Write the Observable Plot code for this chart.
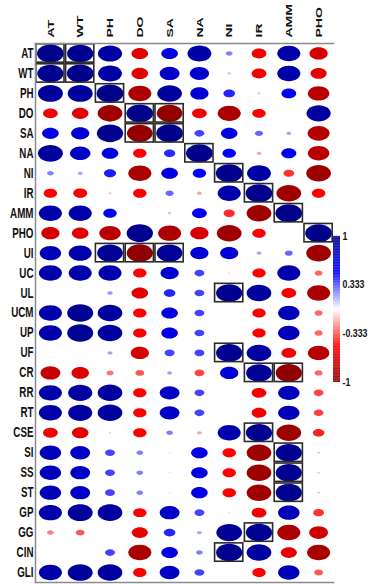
<!DOCTYPE html>
<html><head><meta charset="utf-8">
<script src="https://cdn.jsdelivr.net/npm/d3@7"></script>
<script src="https://cdn.jsdelivr.net/npm/@observablehq/plot@0.6"></script>
<style>
body{margin:0;background:#fff;}
#wrap{position:relative;width:368px;height:584px;overflow:hidden;background:#fff;}
#wrap svg{position:absolute;left:0;top:0;}
</style></head><body><div id="wrap"></div>
<script>
const columns = ["AT","WT","PH","DO","SA","NA","NI","IR","AMM","PHO"];
const rows = ["AT","WT","PH","DO","SA","NA","NI","IR","AMM","PHO","UI","UC","UL","UCM","UP","UF","CR","RR","RT","CSE","SI","SS","ST","GP","GG","CIN","GLI"];

// correlation values, one array per row (order = columns)
const rAT  = [1.00, 0.98, 0.90,-0.62, 0.62, 0.89, 0.25,-0.55, 0.86,-0.68];
const rWT  = [0.98, 1.00, 0.89,-0.62, 0.74, 0.72, 0.12,-0.55, 0.86,-0.60];
const rPH  = [0.93, 0.93, 1.00,-0.86, 0.92, 0.68, 0.43,-0.12, 0.55,-0.80];
const rDO  = [-0.55,-0.62,-0.92, 1.00,-0.96,-0.55,-0.86,-0.50, 0.00, 0.90];
const rSA  = [0.62, 0.68, 0.98,-0.96, 1.00, 0.37, 0.62, 0.30, 0.18,-0.82];
const rNA  = [0.93, 0.76, 0.62,-0.50, 0.42, 1.00, 0.50,-0.18, 0.56,-0.80];
const rNI  = [0.25, 0.18, 0.45,-0.86, 0.62, 0.50, 1.00, 0.89,-0.40,-0.92];
const rIR  = [-0.50,-0.52,-0.12,-0.50, 0.30,-0.18, 0.86, 1.00,-0.92,-0.50];
const rAMM = [0.86, 0.86, 0.50, 0.00, 0.12, 0.55,-0.42,-0.92, 1.00,-0.03];
const rPHO = [-0.68,-0.62,-0.80, 0.98,-0.86,-0.68,-0.92,-0.50,-0.03, 1.00];
const rUI  = [0.80, 0.86, 0.96,-0.98, 0.96, 0.68, 0.68, 0.18, 0.30,-0.92];
const rUC  = [0.86, 0.86, 0.86,-0.50, 0.68, 0.37,-0.08,-0.50, 0.86,-0.30];
const rUL  = [0.00,-0.05, 0.20,-0.62, 0.43, 0.37, 0.98, 0.92,-0.55,-0.86];
const rUCM = [0.86, 0.97, 0.92,-0.50, 0.62, 0.37,-0.06,-0.50, 0.80,-0.30];
const rUP  = [0.86, 0.97, 0.92,-0.50, 0.62, 0.37,-0.06,-0.50, 0.80,-0.30];
const rUF  = [0.00,-0.06, 0.18,-0.68, 0.37, 0.37, 0.98, 0.92,-0.55,-0.80];
const rCR  = [-0.74,-0.65,-0.27,-0.33, 0.18,-0.37, 0.68, 0.96,-0.98,-0.30];
const rRR  = [0.86, 0.90, 0.92,-0.50, 0.74, 0.37,-0.06,-0.55, 0.80,-0.37];
const rRT  = [0.86, 0.90, 0.92,-0.50, 0.74, 0.37,-0.06,-0.55, 0.80,-0.37];
const rCSE = [-0.55,-0.62,-0.10,-0.50, 0.25,-0.18, 0.86, 0.98,-0.92,-0.43];
const rSI  = [0.80, 0.74, 0.37, 0.25,-0.08, 0.62,-0.50,-0.92, 0.98, 0.10];
const rSS  = [0.80, 0.74, 0.37, 0.25,-0.08, 0.62,-0.50,-0.92, 0.98, 0.10];
const rST  = [0.80, 0.74, 0.37, 0.25,-0.08, 0.62,-0.50,-0.92, 0.98, 0.10];
const rGP  = [0.86, 0.93, 0.92,-0.50, 0.74, 0.37,-0.08,-0.55, 0.80,-0.40];
const rGG  = [-0.25,-0.33,-0.05,-0.60, 0.43, 0.18, 0.96, 0.98,-0.86,-0.70];
const rCIN = [0.00, 0.03, 0.37,-0.86, 0.62, 0.25, 0.98, 0.92,-0.60,-0.86];
const rGLI = [0.86, 0.93, 0.92,-0.50, 0.74, 0.37,-0.06,-0.50, 0.80,-0.33];
const matrix = [rAT,rWT,rPH,rDO,rSA,rNA,rNI,rIR,rAMM,rPHO,rUI,rUC,rUL,rUCM,rUP,rUF,rCR,rRR,rRT,rCSE,rSI,rSS,rST,rGP,rGG,rCIN,rGLI];

// highlighted (boxed) cells: [row, column]
const boxedCells = [["AT","AT"],["AT","WT"],["WT","AT"],["WT","WT"],["PH","PH"],["DO","DO"],["DO","SA"],["SA","DO"],["SA","SA"],["NA","NA"],["NI","NI"],["IR","IR"],["AMM","AMM"],["PHO","PHO"],["UI","PH"],["UI","DO"],["UI","SA"],["UL","NI"],["UF","NI"],["CR","IR"],["CR","AMM"],["CSE","IR"],["SI","AMM"],["SS","AMM"],["ST","AMM"],["GG","IR"],["CIN","NI"]];

const legendTicks = [1, 0.333, -0.333, -1];
const legendLabels = ["1","0.333","-0.333","-1"];

const cells = rows.flatMap((r, i) => columns.map((c, j) => ({row: r, col: c, value: matrix[i][j]})));

const W = 368, H = 584, mL = 35, mR = 35, mT = 43, mB = 2;
const cellW = (W - mL - mR) / columns.length;
const cellH = (H - mT - mB) / rows.length;
const SX = cellW / cellH;

const ellipse = {
  draw(ctx, size) {
    const r = Math.sqrt(size / Math.PI);
    const rx = r * SX, ry = r, k = 0.5522847498;
    ctx.moveTo(rx, 0);
    ctx.bezierCurveTo(rx, ry * k, rx * k, ry, 0, ry);
    ctx.bezierCurveTo(-rx * k, ry, -rx, ry * k, -rx, 0);
    ctx.bezierCurveTo(-rx, -ry * k, -rx * k, -ry, 0, -ry);
    ctx.bezierCurveTo(rx * k, -ry, rx, -ry * k, rx, 0);
    ctx.closePath();
  }
};

// squeeze text glyphs (sx, sy in the text's own coordinates)
function squeeze(sx, sy) {
  return function (index, scales, values, dimensions, context, next) {
    const g = next(index, scales, values, dimensions, context);
    g.querySelectorAll("text").forEach(el => {
      const t = el.getAttribute("transform") || "";
      el.setAttribute("transform", `${t} scale(${sx},${sy})`);
    });
    return g;
  };
}

const colorScale = {type: "linear", domain: [-1, -0.5, 0, 0.5, 1], range: ["#8B0000", "#FF0000", "#FFFFFF", "#0000FF", "#00008B"], interpolate: "rgb"};
const font = "'Liberation Sans', Arial, sans-serif";

const main = Plot.plot({
  width: W, height: H,
  marginLeft: mL, marginRight: mR, marginTop: mT, marginBottom: mB,
  style: {background: "white", fontFamily: font},
  x: {type: "band", domain: columns, padding: 0, round: false, axis: null},
  y: {type: "band", domain: rows, padding: 0, round: false, axis: null},
  r: {type: "linear", domain: [0, 1], range: [0, 0.45 * cellH]},
  color: colorScale,
  marks: [
    Plot.dot(cells, {x: "col", y: "row", r: d => Math.abs(d.value), fill: "value", symbol: ellipse}),
    Plot.cell(boxedCells, {x: d => d[1], y: d => d[0], fill: "none", stroke: "#2a2a2a", strokeWidth: 1.6, inset: 0.8}),
    Plot.frame({anchor: "left", stroke: "#8a8a8a", strokeWidth: 1.5}),
    Plot.frame({anchor: "top", stroke: "#8a8a8a", strokeWidth: 1.5}),
    Plot.frame({anchor: "bottom", stroke: "#8a8a8a", strokeWidth: 1.5}),
    Plot.text(rows, {y: d => d, text: d => d, frameAnchor: "left", textAnchor: "end", lineAnchor: "middle", dx: -2, fontWeight: "bold", fontSize: 14, fill: "#111", render: squeeze(0.7, 1)}),
    Plot.text(columns, {x: d => d, text: d => d, frameAnchor: "top", rotate: -90, textAnchor: "start", lineAnchor: "middle", dy: -6, fontWeight: "bold", fontSize: 14, fill: "#111", render: squeeze(1, 0.7)})
  ]
});

// colour bar
const stops = d3.range(-1, 1, 0.01);
const barTop = 236, barBottom = 382, barLeft = 333, barRight = 340;
const bar = Plot.plot({
  width: W, height: H,
  marginLeft: barLeft, marginRight: W - barRight, marginTop: barTop, marginBottom: H - barBottom,
  style: {background: "none", fontFamily: font, overflow: "visible"},
  x: {type: "linear", domain: [0, 1], axis: null},
  y: {type: "linear", domain: [-1, 1], axis: null},
  color: colorScale,
  marks: [
    Plot.rect(stops, {x1: 0, x2: 1, y1: d => d, y2: d => d + 0.012, fill: d => d + 0.005}),
    Plot.text(legendTicks, {x: 1, y: d => d, text: (d, i) => legendLabels[i], textAnchor: "start", dx: 2, fontWeight: "bold", fontSize: 10, fill: "#111", render: squeeze(0.88, 1)})
  ]
});

const wrap = document.getElementById("wrap");
wrap.appendChild(main);
wrap.appendChild(bar);
</script>
</body></html>
